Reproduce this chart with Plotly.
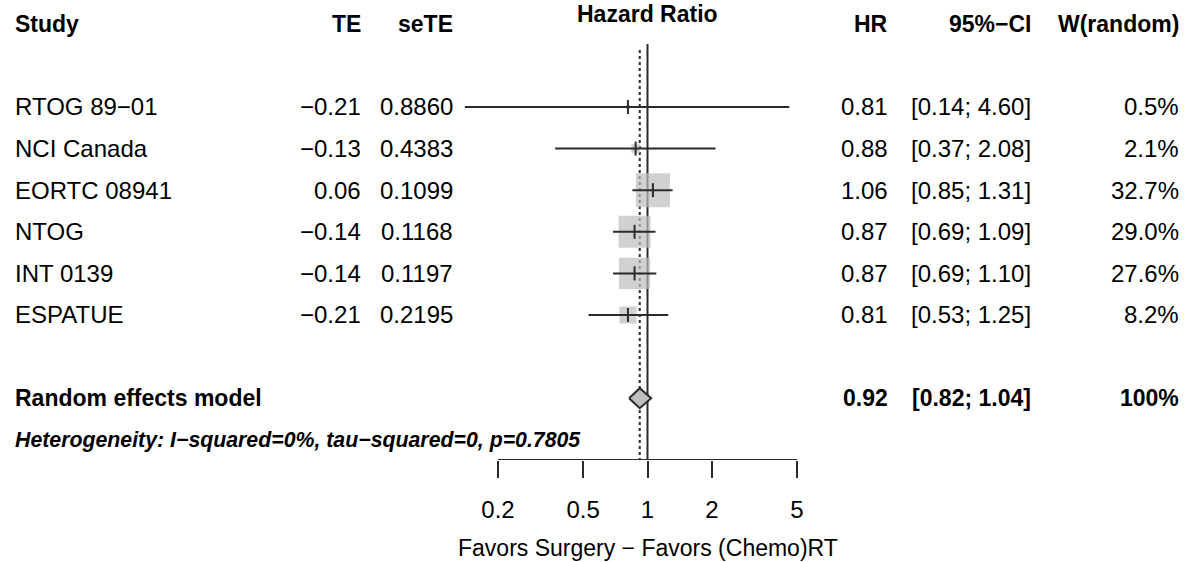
import numpy as np
import plotly.graph_objects as go

# ---------------- data ----------------
studies = ["RTOG 89\u221201", "NCI Canada", "EORTC 08941", "NTOG", "INT 0139", "ESPATUE"]
te = [-0.21, -0.13, 0.06, -0.14, -0.14, -0.21]
sete = [0.8860, 0.4383, 0.1099, 0.1168, 0.1197, 0.2195]
hr = [0.81, 0.88, 1.06, 0.87, 0.87, 0.81]
ci_lo = [0.14, 0.37, 0.85, 0.69, 0.69, 0.53]
ci_hi = [4.60, 2.08, 1.31, 1.09, 1.10, 1.25]
w_random = [0.5, 2.1, 32.7, 29.0, 27.6, 8.2]

pooled_label = "Random effects model"
pooled_hr = 0.92
pooled_lo = 0.82
pooled_hi = 1.04
pooled_w = "100%"
het_text = "Heterogeneity: I\u2212squared=0%, tau\u2212squared=0, p=0.7805"

x_ticks = [0.2, 0.5, 1, 2, 5]
x_ticktext = ["0.2", "0.5", "1", "2", "5"]
headers = ["Study", "TE", "seTE", "HR", "95%\u2212CI", "W(random)"]
plot_title = "Hazard Ratio"
x_title = "Favors Surgery \u2212 Favors (Chemo)RT"

# ---------------- layout constants ----------------
W, H = 1186, 562
FONT = "Liberation Sans, Arial, Helvetica, sans-serif"
FS = 24
FSB = 23
LINE = "#2b2b2b"
rows = list(range(1, len(studies) + 1))
pooled_row = 8
het_row = 9
header_row = -1
y_bottom = 9.486
y_top = -1.572
px_per_decade = 299 / (np.log10(5) - np.log10(0.2))
x_r0 = np.log10(0.2) - 498 / px_per_decade
x_r1 = np.log10(5) + (W - 797) / px_per_decade


def fmt(v, d=2):
    s = f"{v:.{d}f}"
    return s.replace("-", "\u2212")


fig = go.Figure()

# squares (area proportional to weight)
sizes = [5.95 * np.sqrt(w) for w in w_random]
fig.add_trace(go.Scatter(
    x=hr, y=rows, mode="markers",
    marker=dict(symbol="square", size=sizes, color="#bebebe", line=dict(width=0)),
    hoverinfo="skip", showlegend=False))

# CI lines
cx, cy = [], []
for lo, hi, r in zip(ci_lo, ci_hi, rows):
    cx += [lo, hi, None]
    cy += [r, r, None]
fig.add_trace(go.Scatter(x=cx, y=cy, mode="lines",
                         line=dict(color=LINE, width=2),
                         hoverinfo="skip", showlegend=False))

# point estimate ticks
fig.add_trace(go.Scatter(
    x=hr, y=rows, mode="markers",
    marker=dict(symbol="line-ns", size=10, line=dict(color=LINE, width=2)),
    hoverinfo="skip", showlegend=False))

# diamond
dh = 0.24
fig.add_trace(go.Scatter(
    x=[pooled_lo, pooled_hr, pooled_hi, pooled_hr, pooled_lo],
    y=[pooled_row, pooled_row - dh, pooled_row, pooled_row + dh, pooled_row],
    mode="lines", fill="toself", fillcolor="#bebebe",
    line=dict(color=LINE, width=2),
    hoverinfo="skip", showlegend=False))

# reference lines
fig.add_shape(type="line", xref="x", yref="y", x0=1, x1=1, y0=-0.514, y1=y_bottom,
              line=dict(color=LINE, width=2), layer="below")
fig.add_shape(type="line", xref="x", yref="y", x0=pooled_hr, x1=pooled_hr, y0=-0.37, y1=y_bottom,
              line=dict(color=LINE, width=2, dash="dot"), layer="below")
# axis baseline
fig.add_shape(type="line", xref="x", yref="y", x0=x_ticks[0], x1=x_ticks[-1], y0=y_bottom, y1=y_bottom,
              line=dict(color=LINE, width=2))

ann = []


def txt(text, x, y, anchor, bold=False, italic=False, size=None):
    t = text
    if size is None:
        size = FSB if bold else FS
    if bold:
        t = f"<b>{t}</b>"
    if italic:
        t = f"<i>{t}</i>"
    ann.append(dict(text=t, x=x / W, xref="paper", y=y, yref="y", xanchor=anchor,
                    yanchor="middle", showarrow=False,
                    font=dict(family=FONT, size=size, color="black")))


col_x = {"study": 13, "te": 363, "sete": 455, "hr": 890, "ci": 1033, "w": 1181}

# headers
txt(headers[0], col_x["study"], header_row, "left", bold=True)
txt(headers[1], col_x["te"], header_row, "right", bold=True)
txt(headers[2], col_x["sete"], header_row, "right", bold=True)
txt(headers[3], col_x["hr"], header_row, "right", bold=True)
txt(headers[4], col_x["ci"], header_row, "right", bold=True)
txt(headers[5], col_x["w"], header_row, "right", bold=True)
ann.append(dict(text=f"<b>{plot_title}</b>", x=np.log10(1), xref="x", y=-1.24, yref="y",
                xanchor="center", yanchor="middle", showarrow=False,
                font=dict(family=FONT, size=FSB, color="black")))

for i, r in enumerate(rows):
    txt(studies[i], col_x["study"], r, "left")
    txt(fmt(te[i]), col_x["te"], r, "right")
    txt(f"{sete[i]:.4f}", col_x["sete"], r, "right")
    txt(fmt(hr[i]), col_x["hr"], r, "right")
    txt(f"[{ci_lo[i]:.2f}; {ci_hi[i]:.2f}]", col_x["ci"], r, "right")
    txt(f"{w_random[i]:.1f}%", col_x["w"], r, "right")

txt(pooled_label, col_x["study"], pooled_row, "left", bold=True)
txt(fmt(pooled_hr), col_x["hr"], pooled_row, "right", bold=True)
txt(f"[{pooled_lo:.2f}; {pooled_hi:.2f}]", col_x["ci"], pooled_row, "right", bold=True)
txt(pooled_w, col_x["w"], pooled_row, "right", bold=True)
txt(het_text, col_x["study"], het_row, "left", bold=True, italic=True, size=21.3)

ann.append(dict(text=x_title, x=np.log10(1), xref="x", y=-88 / 460, yref="paper",
                xanchor="center", yanchor="middle", showarrow=False,
                font=dict(family=FONT, size=FSB, color="black")))

fig.update_layout(
    width=W, height=H,
    margin=dict(l=0, r=0, t=0, b=102),
    paper_bgcolor="white", plot_bgcolor="white",
    annotations=ann,
    showlegend=False,
    xaxis=dict(type="log", range=[x_r0, x_r1], domain=[0, 1],
               showgrid=False, zeroline=False, showline=False,
               tickmode="array", tickvals=x_ticks, ticktext=x_ticktext,
               ticks="outside", ticklen=17, tickwidth=2, tickcolor=LINE,
               ticklabelstandoff=11,
               tickfont=dict(family=FONT, size=FS, color="black"),
               fixedrange=True),
    yaxis=dict(range=[y_bottom, y_top], visible=False, showgrid=False, zeroline=False,
               fixedrange=True),
)

fig.write_html("out.html", config={"displayModeBar": False},
               post_script="document.body.style.margin='0px';")
